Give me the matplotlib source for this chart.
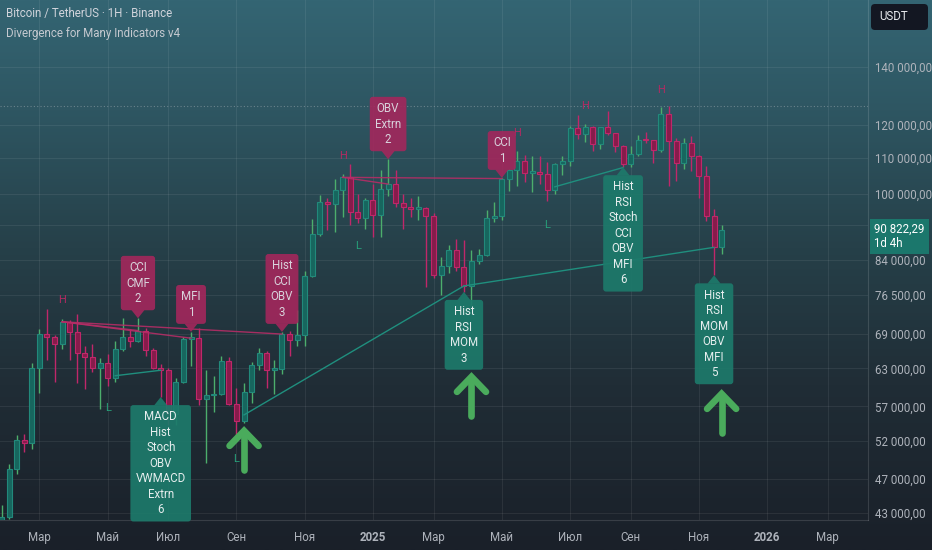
import numpy as np
import pandas as pd
import matplotlib
matplotlib.use("Agg")
import matplotlib.pyplot as plt
from matplotlib import transforms
from matplotlib.patches import Polygon, FancyBboxPatch
from matplotlib.ticker import NullLocator

plt.rcParams['font.family'] = ['Liberation Sans Narrow', 'Roboto', 'DejaVu Sans']

# weekly BTC/USDT candles, first week starts 2024-01-29
start = pd.Timestamp("2024-01-29")
opens = [42030, 42580, 48300, 52140, 51730, 63110, 68960, 68390, 67210, 71280,
         69360, 65660, 64940, 63120, 63900, 61480, 66270, 68500, 67760, 69650,
         66230, 63100, 62700, 55850, 60800, 68160, 68250, 58160, 58710, 58900,
         64200, 57300, 54850, 59130, 63580, 65600, 62820, 62850, 69000, 68000,
         68750, 80370, 89850, 97900, 97300, 101100, 104460, 95190, 93710, 98360,
         94530, 101330, 102620, 97700, 96460, 96120, 96250, 94270, 80730, 82580,
         86080, 82330, 78370, 83750, 85130, 93750, 94300, 104120, 106470, 109000,
         105700, 105800, 105500, 100960, 108350, 109200, 119000, 117300, 119450, 114200,
         119300, 117400, 113500, 108250, 111150, 115300, 115250, 112150, 123500, 115100,
         108600, 114500, 110600, 104700, 94200, 86800]
highs = [43880, 48970, 52820, 52985, 64000, 70000, 73780, 68920, 71770, 71700,
         72800, 66870, 67230, 64750, 65500, 67700, 71980, 70000, 71950, 70200,
         66480, 63800, 63000, 61400, 68400, 69400, 70080, 62750, 61800, 65050,
         64900, 59800, 60650, 64130, 66500, 66000, 64470, 69400, 69500, 73600,
         81500, 93480, 99590, 98900, 104000, 105250, 108350, 99960, 99000, 102700,
         106400, 109590, 106500, 100000, 98800, 99500, 96500, 95000, 84700, 87450,
         88750, 88500, 86100, 86500, 95750, 97900, 104300, 106700, 111980, 110700,
         110500, 110600, 108900, 108500, 110500, 119500, 123200, 120250, 119800, 119400,
         124450, 117600, 113700, 113400, 116700, 117900, 115400, 125700, 126200, 115900,
         116000, 116400, 110700, 107500, 96000, 92000]
lows = [41800, 42250, 47700, 50520, 50900, 59000, 64500, 60770, 66400, 64500,
        60660, 59600, 62400, 56550, 60190, 60750, 66060, 66600, 67500, 65080,
        62900, 58400, 54300, 54260, 60600, 63450, 57120, 49000, 56100, 58800,
        57200, 52550, 54580, 57500, 62700, 59800, 58900, 62100, 65050, 66800,
        66850, 80250, 89400, 90800, 90500, 94150, 92200, 92500, 91200, 89200,
        89250, 99450, 96500, 91200, 94100, 93400, 78200, 80000, 76600, 81150,
        81600, 77150, 74500, 83100, 84900, 92800, 93400, 100700, 102000, 103100,
        100400, 102700, 98200, 100000, 105100, 107500, 115700, 114700, 112000, 112600,
        116800, 111700, 107300, 107300, 110600, 114400, 108600, 111600, 102000, 103500,
        106700, 106300, 98900, 93000, 80600, 85300]
closes = opens[1:] + [90822]

# axis ticks
tick_months = ["2024-03", "2024-05", "2024-07", "2024-09", "2024-11", "2025-01", "2025-03",
               "2025-05", "2025-07", "2025-09", "2025-11", "2026-01", "2026-03"]
tick_labels = ["Мар", "Май", "Июл", "Сен", "Ноя", "2025", "Мар", "Май", "Июл", "Сен",
               "Ноя", "2026", "Мар"]
price_ticks = [43000, 47000, 52000, 57000, 63000, 69000, 76500, 84000, 92000,
               100000, 110000, 120000, 140000]
hidden_ticks = [92000]  # label sits under the last-price tag

# divergence lines (week, price) -> (week, price)
bear_k1 = [8, 8, 8, 45, 45]
bear_p1 = [71280, 71280, 71280, 104460, 104460]
bear_k2 = [18, 25, 37, 51, 66]
bear_p2 = [69650, 68250, 69000, 102620, 104120]
bull_k1 = [15, 32, 61, 73]
bull_p1 = [61800, 55720, 78370, 101880]
bull_k2 = [21, 61, 94, 82]
bull_p2 = [62700, 78370, 86800, 107200]

# divergence labels
bear_box_k = [18, 25, 37, 51, 66]
bear_box_txt = ["CCI\nCMF\n2", "MFI\n1", "Hist\nCCI\nOBV\n3", "OBV\nExtrn\n2", "CCI\n1"]
bull_box_k = [21, 61, 82, 94]
bull_box_txt = ["MACD\nHist\nStoch\nOBV\nVWMACD\nExtrn\n6", "Hist\nRSI\nMOM\n3",
                "Hist\nRSI\nStoch\nCCI\nOBV\nMFI\n6", "Hist\nRSI\nMOM\nOBV\nMFI\n5"]

# pivot letters
h_k = [8, 45, 68, 77, 87]
h_p = [75550, 110600, 117560, 126280, 131740]
l_k = [14, 31, 47, 72]
l_p = [56760, 49590, 87160, 92140]

# buy arrows (week, tip price)
arrow_k = [32, 62, 95]
arrow_p = [53980, 62270, 59530]

ath = 126200
last_price = 90822.29

bull_body, bull_edge, bull_wick = '#17665e', '#22897b', '#4cae6c'
bear_body, bear_edge, bear_wick = '#861c4b', '#c0276a', '#c0276a'
bear_box, bull_box = '#a3275c', '#1d7a6b'
axis_txt = '#aeb3bb'

fig = plt.figure(figsize=(9.32, 5.5), dpi=100)

# background gradient
stops = np.array([0.0, 0.2, 0.45, 0.7, 1.0])
cols = np.array([[52, 101, 115], [46, 86, 98], [38, 64, 73], [32, 45, 54], [26, 32, 41]]) / 255
yy = np.linspace(0, 1, 300)
grad = np.stack([np.interp(yy, stops, cols[:, i]) for i in range(3)], axis=1)[:, None, :]
bg = fig.add_axes([0, 0, 1, 1], zorder=-10)
bg.imshow(grad, aspect='auto', extent=[0, 1, 0, 1], interpolation='bilinear')
bg.axis('off')

ax = fig.add_axes([0, 30 / 550, 868 / 932, 520 / 550])
ax.patch.set_visible(False)
ax.set_yscale('log')
ax.set_xlim(-0.2, -0.2 + 868 / 7.58)
ax.set_ylim(42190, 167000)

o = np.array(opens, float)
h = np.array(highs, float)
l = np.array(lows, float)
c = np.array(closes, float)
weeks = np.arange(len(c))
up = c >= o
lo = np.minimum(o, c)
hi = np.maximum(np.maximum(o, c), lo * 1.004)

ax.vlines(weeks, l, h, colors=np.where(up, bull_wick, bear_wick), lw=1.0, zorder=3)
ax.bar(weeks, hi - lo, bottom=lo, width=0.66, color=np.where(up, bull_body, bear_body),
       edgecolor=np.where(up, bull_edge, bear_edge), linewidth=0.8, zorder=4)

ax.axhline(ath, color='#9aa7ad', lw=0.8, ls=(0, (1, 2)), alpha=0.55, zorder=2)

for k1, p1, k2, p2 in zip(bear_k1, bear_p1, bear_k2, bear_p2):
    ax.plot([k1, k2], [p1, p2], color='#b52d66', lw=1.0, alpha=0.9, zorder=5)
for k1, p1, k2, p2 in zip(bull_k1, bull_p1, bull_k2, bull_p2):
    ax.plot([k1, k2], [p1, p2], color='#1f8f7e', lw=1.0, zorder=5)


def at(k, p):
    # shape coordinates in inches, anchored at a data point
    return fig.dpi_scale_trans + transforms.ScaledTranslation(k, p, ax.transData)


fs_box = 8.3
off = (8 + 0.45 * fs_box / 0.72) * 0.72
for k, txt in zip(bear_box_k, bear_box_txt):
    ax.add_patch(Polygon([(0, 0), (-0.065, 0.082), (0.065, 0.082)], closed=True,
                         transform=at(k, h[k]), fc=bear_box, ec='none', alpha=0.9, zorder=6))
    ax.annotate(txt, xy=(k, h[k]), xytext=(0, off), textcoords='offset points',
                ha='center', va='bottom', fontsize=fs_box, color='#d9d3dc', linespacing=1.25,
                bbox=dict(boxstyle='round,pad=0.45,rounding_size=0.25', fc=bear_box, ec='none',
                          alpha=0.9), zorder=7)
for k, txt in zip(bull_box_k, bull_box_txt):
    ax.add_patch(Polygon([(0, 0), (-0.065, -0.082), (0.065, -0.082)], closed=True,
                         transform=at(k, l[k]), fc=bull_box, ec='none', alpha=0.92, zorder=6))
    ax.annotate(txt, xy=(k, l[k]), xytext=(0, -off), textcoords='offset points',
                ha='center', va='top', fontsize=fs_box, color='#e6eeee', linespacing=1.25,
                bbox=dict(boxstyle='round,pad=0.45,rounding_size=0.25', fc=bull_box, ec='none',
                          alpha=0.92), zorder=7)

for k, p in zip(h_k, h_p):
    ax.text(k, p, 'H', ha='center', va='center', fontsize=8, color='#b32a62', zorder=6)
for k, p in zip(l_k, l_p):
    ax.text(k, p, 'L', ha='center', va='center', fontsize=8, color='#27a07a', zorder=6)

for k, p in zip(arrow_k, arrow_p):
    tr = at(k, p)
    ax.plot([0, 0], [-0.05, -0.43], color='#4aab5c', lw=4.8, solid_capstyle='round',
            transform=tr, zorder=8)
    ax.plot([-0.145, 0, 0.145], [-0.19, -0.04, -0.19], color='#4aab5c', lw=4.8,
            solid_capstyle='round', solid_joinstyle='miter', transform=tr, zorder=8)

# axes styling
tick_x = []
for m in tick_months:
    d = pd.Timestamp(m + "-01")
    d = d + pd.Timedelta(days=(7 - d.weekday()) % 7)
    tick_x.append((d - start).days / 7)
ax.set_xticks(tick_x)
ax.set_xticklabels(tick_labels)
for lab, txt in zip(ax.get_xticklabels(), tick_labels):
    if txt.isdigit():
        lab.set_fontweight('bold')
        lab.set_color('#d1d4dc')
ax.yaxis.tick_right()
ax.set_yticks(price_ticks)
ax.set_yticklabels(["" if v in hidden_ticks else f"{v:,.2f}".replace(",", " ").replace(".", ",")
                    for v in price_ticks])
ax.yaxis.set_minor_locator(NullLocator())
ax.tick_params(axis='x', length=0, pad=8, labelsize=8.3, labelcolor=axis_txt)
ax.tick_params(axis='y', length=0, pad=5, labelsize=8.3, labelcolor=axis_txt)
ax.grid(True, color='white', alpha=0.07, lw=0.8)
ax.set_axisbelow(True)
for s in ['top', 'left']:
    ax.spines[s].set_visible(False)
for s in ['bottom', 'right']:
    ax.spines[s].set_color((1, 1, 1, 0.13))
    ax.spines[s].set_linewidth(0.8)

# last price tag
blend = transforms.blended_transform_factory(ax.transAxes, ax.transData)
ax.annotate(f"{last_price:,.2f}".replace(",", " ").replace(".", ",") + "\n1d 4h",
            xy=(1, last_price), xycoords=blend, xytext=(4.5, 5.5), textcoords='offset points',
            ha='left', va='top', fontsize=8.3, color='white', linespacing=1.15,
            bbox=dict(boxstyle='square,pad=0.35', fc='#1b776c', ec='none'),
            annotation_clip=False, zorder=10)

fig.add_artist(FancyBboxPatch((871, 550 - 30), 57, 26, boxstyle='round,pad=0,rounding_size=4',
                              transform=transforms.IdentityTransform(), fc='#131722', ec='none'))
fig.text(879 / 932, 1 - 17 / 550, "USDT", ha='left', va='center', fontsize=8.3, color='#e8eaee')

fig.text(6 / 932, 1 - 14 / 550, "Bitcoin / TetherUS · 1H · Binance", ha='left', va='center',
         fontsize=8.3, color='#d1d4dc')
fig.text(6 / 932, 1 - 34 / 550, "Divergence for Many Indicators v4", ha='left', va='center',
         fontsize=8.3, color='#c5c9d0')

fig.savefig("out.png", dpi=100)
